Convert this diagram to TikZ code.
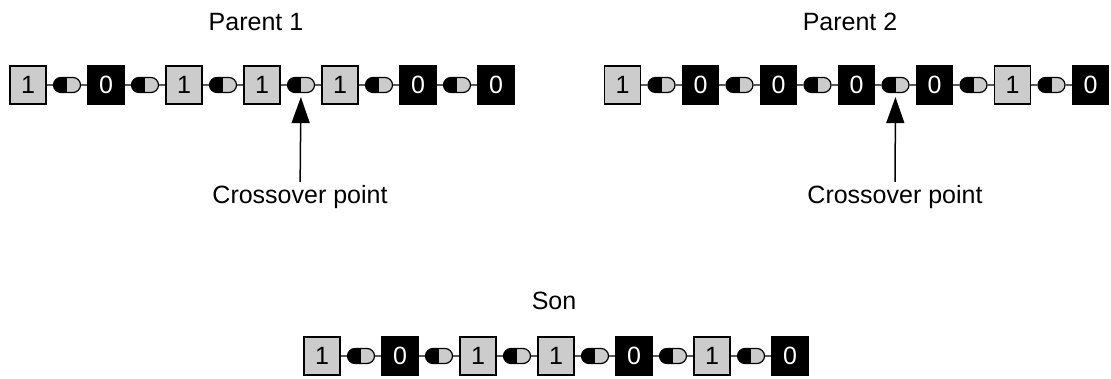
\documentclass[tikz,border=0pt]{standalone}
\usepackage{fontspec}
\setmainfont{Liberation Sans}
\usetikzlibrary{shapes.misc,arrows.meta}
\begin{document}
\begin{tikzpicture}[x=1pt, y=1pt, line width=1.2pt]
		\tikzset{one/.style={rectangle, draw=black, fill=black!20, minimum width=36pt, minimum height=38pt, inner sep=0pt, font=\fontsize{25}{25}\selectfont}};
		\tikzset{zero/.style={one, fill=black, text=white}};
		\tikzset{link/.style={rounded rectangle, draw=black, fill=black!20, minimum width=27pt, minimum height=15pt, inner sep=0pt, path picture={\fill[black] (path picture bounding box.south west) rectangle (path picture bounding box.north);}}};
		\tikzset{lbl/.style={font=\fontsize{25}{30}\selectfont}};
		\tikzset{pointer/.style={-{Triangle[length=26pt, width=18pt]}, line width=1.5pt, shorten >=4pt}};

		\useasboundingbox (0, 0) rectangle (1111, 379);

		% parent 1
		\node[lbl] (t1) at (256, 357) {Parent 1};
		\node[one] (a1) at (28, 294) {1};
		\node[zero] (a2) at (106, 294) {0};
		\node[one] (a3) at (184, 294) {1};
		\node[one] (a4) at (262, 294) {1};
		\node[one] (a5) at (340, 294) {1};
		\node[zero] (a6) at (418, 294) {0};
		\node[zero] (a7) at (496, 294) {0};
		\node[link] (la1) at (67, 294) {};
		\node[link] (la2) at (145, 294) {};
		\node[link] (la3) at (223, 294) {};
		\node[link] (la4) at (301, 294) {};
		\node[link] (la5) at (379, 294) {};
		\node[link] (la6) at (457, 294) {};

		% parent 2
		\node[lbl] (t2) at (850, 357) {Parent 2};
		\node[one] (b1) at (622.5, 294) {1};
		\node[zero] (b2) at (700.5, 294) {0};
		\node[zero] (b3) at (778.5, 294) {0};
		\node[zero] (b4) at (856.5, 294) {0};
		\node[zero] (b5) at (934.5, 294) {0};
		\node[one] (b6) at (1012.5, 294) {1};
		\node[zero] (b7) at (1090.5, 294) {0};
		\node[link] (lb1) at (661.5, 294) {};
		\node[link] (lb2) at (739.5, 294) {};
		\node[link] (lb3) at (817.5, 294) {};
		\node[link] (lb4) at (895.5, 294) {};
		\node[link] (lb5) at (973.5, 294) {};
		\node[link] (lb6) at (1051.5, 294) {};

		% son
		\node[lbl] (t3) at (554, 78) {Son};
		\node[one] (s1) at (322, 23) {1};
		\node[zero] (s2) at (400, 23) {0};
		\node[one] (s3) at (478, 23) {1};
		\node[one] (s4) at (556, 23) {1};
		\node[zero] (s5) at (634, 23) {0};
		\node[one] (s6) at (712, 23) {1};
		\node[zero] (s7) at (790, 23) {0};
		\node[link] (ls1) at (361, 23) {};
		\node[link] (ls2) at (439, 23) {};
		\node[link] (ls3) at (517, 23) {};
		\node[link] (ls4) at (595, 23) {};
		\node[link] (ls5) at (673, 23) {};
		\node[link] (ls6) at (751, 23) {};

		\draw (a1) to (la1) to (a2);
		\draw (a2) to (la2) to (a3);
		\draw (a3) to (la3) to (a4);
		\draw (a4) to (la4) to (a5);
		\draw (a5) to (la5) to (a6);
		\draw (a6) to (la6) to (a7);

		\draw (b1) to (lb1) to (b2);
		\draw (b2) to (lb2) to (b3);
		\draw (b3) to (lb3) to (b4);
		\draw (b4) to (lb4) to (b5);
		\draw (b5) to (lb5) to (b6);
		\draw (b6) to (lb6) to (b7);

		\draw (s1) to (ls1) to (s2);
		\draw (s2) to (ls2) to (s3);
		\draw (s3) to (ls3) to (s4);
		\draw (s4) to (ls4) to (s5);
		\draw (s5) to (ls5) to (s6);
		\draw (s6) to (ls6) to (s7);

		% crossover points
		\node[lbl] (cp1) at (300, 181.5) {Crossover point};
		\node[lbl] (cp2) at (895, 181.5) {Crossover point};
		\draw[pointer] (cp1) to (la4);
		\draw[pointer] (cp2) to (lb4);
	\end{tikzpicture}
\end{document}
